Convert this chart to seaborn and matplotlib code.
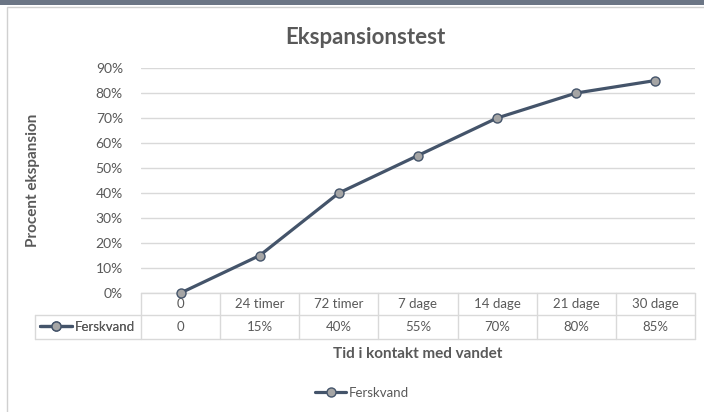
import matplotlib
matplotlib.use("Agg")
import matplotlib.pyplot as plt
import seaborn as sns
import pandas as pd
from matplotlib.patches import Rectangle
from matplotlib.lines import Line2D
from matplotlib.ticker import FuncFormatter

categories = ["0", "24 timer", "72 timer", "7 dage", "14 dage", "21 dage", "30 dage"]
values = [0.00, 0.15, 0.40, 0.55, 0.70, 0.80, 0.85]
value_labels = ["0", "15%", "40%", "55%", "70%", "80%", "85%"]
series_name = "Ferskvand"
title = "Ekspansionstest"
ylabel = "Procent ekspansion"
xlabel = "Tid i kontakt med vandet"

sns.set_theme(style="white")
plt.rcParams["font.family"] = ["Lato", "DejaVu Sans"]

LINE = "#44546A"
MFACE = "#A5A5A5"
GRID = "#D9D9D9"
TXT = "#595959"

W, H = 704, 412
fig = plt.figure(figsize=(W / 100, H / 100), dpi=100)
fig.patch.set_facecolor("white")

# top dark band and chart border
fig.patches.append(Rectangle((0, 1 - 5 / H), 1, 5 / H, transform=fig.transFigure,
                             facecolor="#6B7585", edgecolor="none", zorder=0))
fig.patches.append(Rectangle((6.5 / W, -0.1), 1.2, 1 - 7.5 / H + 0.1, transform=fig.transFigure,
                             facecolor="none", edgecolor="#D0D0D0", linewidth=1, zorder=0))

x0, x1, y0, y1 = 141, 695, 68, 293
ax = fig.add_axes([x0 / W, 1 - y1 / H, (x1 - x0) / W, (y1 - y0) / H])

df = pd.DataFrame({"pos": range(len(categories)), "val": values, "serie": series_name})
sns.lineplot(data=df, x="pos", y="val", ax=ax, color=LINE, linewidth=2.3,
             marker="o", markersize=6.5, markerfacecolor=MFACE,
             markeredgecolor=LINE, markeredgewidth=1.0, label=series_name, legend=False,
             zorder=5, clip_on=False)

ax.set_xlim(-0.5, len(categories) - 0.5)
ax.set_ylim(0, 0.9)
ax.set_yticks([i / 10 for i in range(10)])
ax.yaxis.set_major_formatter(FuncFormatter(lambda v, p: f"{round(v * 100):d}%"))
ax.tick_params(axis="y", labelsize=10, labelcolor=TXT, length=0, pad=13)
ax.set_xticks([])
ax.grid(axis="y", color=GRID, linewidth=1)
for s in ax.spines.values():
    s.set_visible(False)
ax.set_xlabel("")
ax.set_ylabel(ylabel, fontsize=11, fontweight="bold", color=TXT, labelpad=10)
ax.yaxis.set_label_coords(-(x0 - 40) / (x1 - x0), 0.5)

fig.text(365 / W, 1 - 37 / H, title, ha="center", va="center",
         fontsize=16, fontweight="bold", color=TXT)

# data table
ph = y1 - y0
pw = x1 - x0
r1 = -(315 - y1) / ph
r2 = -(339 - y1) / ph
left = (35 - x0) / pw
tr = ax.get_xaxis_transform()
n = len(categories)
for i in range(n + 1):
    ax.add_line(Line2D([i - 0.5, i - 0.5], [0, r2], transform=tr, color=GRID, lw=1, clip_on=False))
ax.add_line(Line2D([left, 1], [r1, r1], transform=ax.transAxes, color=GRID, lw=1, clip_on=False))
ax.add_line(Line2D([left, 1], [r2, r2], transform=ax.transAxes, color=GRID, lw=1, clip_on=False))
ax.add_line(Line2D([left, left], [r1, r2], transform=ax.transAxes, color=GRID, lw=1, clip_on=False))
ax.add_line(Line2D([-0.5, n - 0.5], [0, 0], transform=tr, color=GRID, lw=1, clip_on=False))

for i, (c, vl) in enumerate(zip(categories, value_labels)):
    ax.text(i, r1 / 2, c, transform=tr, ha="center", va="center", fontsize=9.5, color=TXT)
    ax.text(i, (r1 + r2) / 2, vl, transform=tr, ha="center", va="center", fontsize=9.5, color=TXT)

handles, labels = ax.get_legend_handles_labels()
leg_tab = ax.legend(handles, labels, loc="center left",
                    bbox_to_anchor=((40 - x0) / pw, (r1 + r2) / 2), frameon=False,
                    fontsize=9.5, handlelength=2.4, handletextpad=0.2, borderpad=0,
                    borderaxespad=0, labelcolor=TXT)
ax.add_artist(leg_tab)

ax.text(0.5, -(354 - y1) / ph, xlabel, transform=ax.transAxes, ha="center", va="center",
        fontsize=11, fontweight="bold", color=TXT)

fig.legend(handles, labels, loc="center", bbox_to_anchor=(362 / W, 1 - 393 / H),
           frameon=False, fontsize=9.5, handlelength=2.4, handletextpad=0.2,
           borderpad=0, labelcolor=TXT)

fig.savefig("out.png", dpi=100)
